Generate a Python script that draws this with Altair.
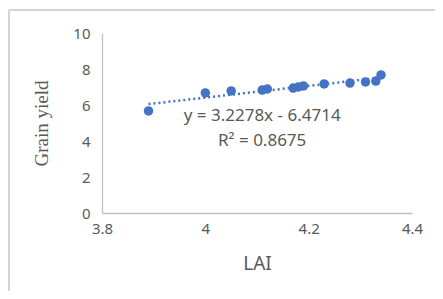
import altair as alt
import pandas as pd

lai = [3.89, 4.00, 4.05, 4.11, 4.12, 4.17, 4.18, 4.19, 4.23, 4.28, 4.31, 4.33, 4.34]
grain_yield = [5.67, 6.67, 6.78, 6.83, 6.89, 6.94, 7.00, 7.06, 7.17, 7.22, 7.28, 7.33, 7.67]

eq_text = ["y = 3.2278x - 6.4714", "R² = 0.8675"]
eq_x = [4.11, 4.11]
eq_y = [5.40, 4.02]

x_ticks = [3.8, 4.0, 4.2, 4.4]
y_ticks = [0, 2, 4, 6, 8, 10]

df = pd.DataFrame({"LAI": lai, "Grain yield": grain_yield})
tdf = pd.DataFrame({"t": eq_text, "x": eq_x, "y": eq_y})

BLUE = "#4472C4"
GRAY = "#595959"
FRAME = "#d4d4d4"

xs = alt.Scale(domain=[3.8, 4.4], nice=False, zero=False)
ys = alt.Scale(domain=[0, 10], nice=False)

xax = alt.Axis(values=x_ticks, format="~g", title="LAI", labelOverlap=False)
yax = alt.Axis(values=y_ticks, title="Grain yield", labelOverlap=False)

one = pd.DataFrame({"a": [0]})
frame_top = alt.Chart(one).mark_rule(color=FRAME, strokeWidth=2, clip=False).encode(
    x=alt.value(-93), x2=alt.value(340), y=alt.value(-23), y2=alt.value(-23)
)
frame_left = alt.Chart(one).mark_rule(color=FRAME, strokeWidth=2, clip=False).encode(
    x=alt.value(-93), x2=alt.value(-93), y=alt.value(-23), y2=alt.value(260)
)

pts = alt.Chart(df).mark_circle(size=90, color=BLUE, opacity=1).encode(
    x=alt.X("LAI:Q", scale=xs, axis=xax),
    y=alt.Y("Grain yield:Q", scale=ys, axis=yax),
)

trend = alt.Chart(df).transform_regression(
    "LAI", "Grain yield", method="linear"
).mark_line(color=BLUE, strokeWidth=2.5, strokeDash=[2, 3]).encode(
    x=alt.X("LAI:Q", scale=xs, axis=xax),
    y=alt.Y("Grain yield:Q", scale=ys, axis=yax),
)

txt = alt.Chart(tdf).mark_text(
    font="Noto Sans", fontSize=17, color=GRAY, align="center", baseline="middle"
).encode(
    x=alt.X("x:Q", scale=xs, axis=xax),
    y=alt.Y("y:Q", scale=ys, axis=yax),
    text="t:N",
)

chart = alt.layer(frame_top, frame_left, trend, pts, txt).properties(
    width=310, height=180,
    autosize=alt.AutoSizeParams(type="none"),
    padding={"left": 94, "top": 25, "right": 23, "bottom": 78},
).configure_view(stroke=None).configure_axis(
    grid=False, ticks=False, domainColor="#c0c0c0", domainWidth=1.3,
    labelColor=GRAY, labelFont="Noto Sans", labelFontSize=15,
    labelFlush=False,
    titleColor=GRAY, titleFontWeight="normal",
).configure_axisX(
    labelPadding=8, titlePadding=18, titleFont="Noto Sans", titleFontSize=19,
).configure_axisY(
    labelPadding=12, titlePadding=21, titleFont="Liberation Serif", titleFontSize=19,
)

chart.save("out.html", embed_options={"renderer": "svg", "actions": False})
